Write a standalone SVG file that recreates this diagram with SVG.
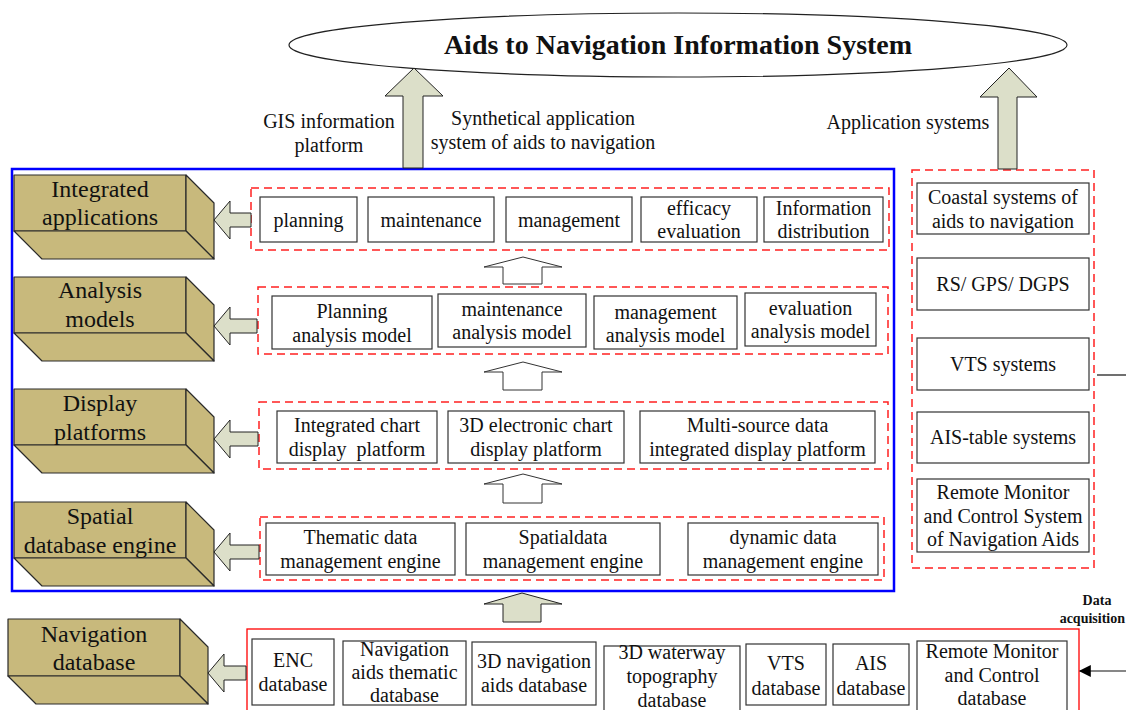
<svg xmlns="http://www.w3.org/2000/svg" width="1126" height="710" viewBox="0 0 1126 710">
<defs>
<style>
text{font-family:"Liberation Serif","Times New Roman",serif;fill:#111;text-anchor:middle}
.t20{font-size:20px}
.t24{font-size:24px}
.title{font-size:28px;font-weight:bold}
.bold{font-size:14px;font-weight:bold}
.box{fill:#fff;stroke:#333;stroke-width:1.2}
.red{fill:none;stroke:#ff2020;stroke-width:1.5;stroke-dasharray:8,5}
.redsolid{fill:none;stroke:#ff0000;stroke-width:1.3}
.gold{fill:#c8b97c;stroke:#2a2a2a;stroke-width:1.2;stroke-linejoin:round}
.garrow{fill:#dcdfc9;stroke:#222;stroke-width:1}
.harrow{fill:#fff;stroke:#333;stroke-width:1}
.line{stroke:#111;stroke-width:1.2;fill:none}
</style>
<marker id="ah" viewBox="0 0 10 10" refX="9" refY="5" markerWidth="16" markerHeight="12" markerUnits="userSpaceOnUse" orient="auto">
<path d="M0,0 L10,5 L0,10 z" fill="#000"/>
</marker>
</defs>
<rect width="1126" height="710" fill="#fff"/>

<g id="title">
<ellipse cx="678" cy="45" rx="389" ry="32" fill="#fff" stroke="#222" stroke-width="1.2"/>
<text class="title" x="678" y="54">Aids to Navigation Information System</text>
</g>

<g id="labels">
<text class="t20" x="329" y="128">GIS information</text>
<text class="t20" x="329" y="152">platform</text>
<text class="t20" x="543" y="125">Synthetical application</text>
<text class="t20" x="543" y="149">system of aids to navigation</text>
<text class="t20" x="908" y="129">Application systems</text>
<text class="bold" x="1097" y="605">Data</text>
<text class="bold" x="1125" y="623" style="text-anchor:end">acquisition</text>
</g>

<g id="gis-platform">
<rect x="12" y="169" width="882" height="422" fill="none" stroke="#0000ff" stroke-width="2.5"/>
</g>

<g id="layer-integrated-applications">
<polygon class="gold" points="14,175 186,175 186,231 14,231"/>
<polygon class="gold" points="186,175 214,203 214,259 186,231"/>
<polygon class="gold" points="14,231 186,231 214,259 42,259"/>
<text class="t24" x="100" y="197">Integrated</text>
<text class="t24" x="100" y="225">applications</text>
</g>
<g id="layer-analysis-models">
<polygon class="gold" points="14,277 186,277 186,333 14,333"/>
<polygon class="gold" points="186,277 214,305 214,361 186,333"/>
<polygon class="gold" points="14,333 186,333 214,361 42,361"/>
<text class="t24" x="100" y="298">Analysis</text>
<text class="t24" x="100" y="327">models</text>
</g>
<g id="layer-display-platforms">
<polygon class="gold" points="14,389 186,389 186,445 14,445"/>
<polygon class="gold" points="186,389 214,417 214,473 186,445"/>
<polygon class="gold" points="14,445 186,445 214,473 42,473"/>
<text class="t24" x="100" y="411">Display</text>
<text class="t24" x="100" y="440">platforms</text>
</g>
<g id="layer-spatial-database-engine">
<polygon class="gold" points="14,502 186,502 186,558 14,558"/>
<polygon class="gold" points="186,502 214,530 214,586 186,558"/>
<polygon class="gold" points="14,558 186,558 214,586 42,586"/>
<text class="t24" x="100" y="524">Spatial</text>
<text class="t24" x="100" y="553">database engine</text>
</g>
<g id="layer-navigation-database">
<polygon class="gold" points="8,619 180,619 180,676 8,676"/>
<polygon class="gold" points="180,619 208,647 208,704 180,676"/>
<polygon class="gold" points="8,676 180,676 208,704 36,704"/>
<text class="t24" x="94" y="642">Navigation</text>
<text class="t24" x="94" y="670">database</text>
</g>

<g id="group-applications">
<rect class="red" x="251" y="188" width="638" height="62"/>
<rect class="box" x="260" y="197" width="97" height="45"/>
<text class="t20" x="308.5" y="227">planning</text>
<rect class="box" x="368" y="197" width="126" height="45"/>
<text class="t20" x="431" y="227">maintenance</text>
<rect class="box" x="506" y="197" width="126" height="45"/>
<text class="t20" x="569" y="227">management</text>
<rect class="box" x="641" y="197" width="116" height="45"/>
<text class="t20" x="699" y="215">efficacy</text>
<text class="t20" x="699" y="238">evaluation</text>
<rect class="box" x="764" y="197" width="119" height="45"/>
<text class="t20" x="823.5" y="215">Information</text>
<text class="t20" x="823.5" y="238">distribution</text>
</g>

<g id="group-models">
<rect class="red" x="258" y="287" width="630" height="67"/>
<rect class="box" x="272" y="296" width="160" height="53"/>
<text class="t20" x="352" y="318">Planning</text>
<text class="t20" x="352" y="342">analysis model</text>
<rect class="box" x="438" y="294" width="148" height="53"/>
<text class="t20" x="512" y="316">maintenance</text>
<text class="t20" x="512" y="339">analysis model</text>
<rect class="box" x="594" y="296" width="143" height="53"/>
<text class="t20" x="665.5" y="319">management</text>
<text class="t20" x="665.5" y="342">analysis model</text>
<rect class="box" x="745" y="293" width="131" height="53"/>
<text class="t20" x="810.5" y="315">evaluation</text>
<text class="t20" x="810.5" y="338">analysis model</text>
</g>

<g id="group-display">
<rect class="red" x="259" y="402" width="629" height="67"/>
<rect class="box" x="277" y="411" width="160" height="52"/>
<text class="t20" x="357" y="432">Integrated chart</text>
<text class="t20" x="357" y="456" xml:space="preserve">display  platform</text>
<rect class="box" x="448" y="411" width="176" height="52"/>
<text class="t20" x="536" y="432">3D electronic chart</text>
<text class="t20" x="536" y="456">display platform</text>
<rect class="box" x="640" y="411" width="235" height="52"/>
<text class="t20" x="757.5" y="432">Multi-source data</text>
<text class="t20" x="757.5" y="456">integrated display platform</text>
</g>

<g id="group-engines">
<rect class="red" x="260" y="517" width="624" height="63"/>
<rect class="box" x="266" y="523" width="189" height="52"/>
<text class="t20" x="360.5" y="544">Thematic data</text>
<text class="t20" x="360.5" y="568">management engine</text>
<rect class="box" x="466" y="523" width="194" height="52"/>
<text class="t20" x="563" y="544">Spatialdata</text>
<text class="t20" x="563" y="568">management engine</text>
<rect class="box" x="688" y="523" width="190" height="52"/>
<text class="t20" x="783" y="544">dynamic data</text>
<text class="t20" x="783" y="568">management engine</text>
</g>

<g id="group-application-systems">
<rect class="red" x="912" y="170" width="182" height="398"/>
<rect class="box" x="917" y="183" width="172" height="51"/>
<text class="t20" x="1003" y="204">Coastal systems of</text>
<text class="t20" x="1003" y="228">aids to navigation</text>
<rect class="box" x="917" y="258" width="172" height="52"/>
<text class="t20" x="1003" y="291">RS/ GPS/ DGPS</text>
<rect class="box" x="917" y="338" width="172" height="52"/>
<text class="t20" x="1003" y="371">VTS systems</text>
<rect class="box" x="917" y="412" width="172" height="51"/>
<text class="t20" x="1003" y="444">AIS-table systems</text>
<rect class="box" x="917" y="479" width="172" height="73"/>
<text class="t20" x="1003" y="499">Remote Monitor</text>
<text class="t20" x="1003" y="523">and Control System</text>
<text class="t20" x="1003" y="546">of Navigation Aids</text>
</g>

<g id="group-databases">
<rect class="redsolid" x="247" y="629" width="832" height="90"/>
<rect class="box" x="252" y="639" width="82" height="66"/>
<text class="t20" x="293" y="667">ENC</text>
<text class="t20" x="293" y="691">database</text>
<rect class="box" x="343" y="641" width="123" height="64"/>
<text class="t20" x="404.5" y="656">Navigation</text>
<text class="t20" x="404.5" y="679">aids thematic</text>
<text class="t20" x="404.5" y="702">database</text>
<rect class="box" x="472" y="642" width="124" height="63"/>
<text class="t20" x="534" y="668">3D navigation</text>
<text class="t20" x="534" y="692">aids database</text>
<rect class="box" x="604" y="646" width="136" height="66"/>
<text class="t20" x="672" y="659">3D waterway</text>
<text class="t20" x="672" y="683">topography</text>
<text class="t20" x="672" y="707">database</text>
<rect class="box" x="746" y="644" width="80" height="61"/>
<text class="t20" x="786" y="670">VTS</text>
<text class="t20" x="786" y="695">database</text>
<rect class="box" x="833" y="644" width="76" height="61"/>
<text class="t20" x="871" y="670">AIS</text>
<text class="t20" x="871" y="695">database</text>
<rect class="box" x="917" y="641" width="150" height="72"/>
<text class="t20" x="992" y="658">Remote Monitor</text>
<text class="t20" x="992" y="682">and Control</text>
<text class="t20" x="992" y="705">database</text>
</g>

<g id="connectors">
<polygon class="garrow" points="403,168 403,96 385,96 414,68 443,96 423,96 423,168"/>
<polygon class="garrow" points="998,169 998,97 980,97 1009,68 1037,97 1017,97 1017,169"/>
<polygon class="garrow" points="503,622 503,604 484,604 522,593 562,604 541,604 541,622"/>
<polygon class="harrow" points="503,284 503,267 484,267 523,257 562,267 542,267 542,284"/>
<polygon class="harrow" points="503,390 503,372 484,372 523,362 562,372 542,372 542,390"/>
<polygon class="harrow" points="503,503 503,484 484,484 523,474 562,484 542,484 542,503"/>
<polygon class="garrow" points="251,213 230,213 230,201 214,220 230,239 230,227 251,227"/>
<polygon class="garrow" points="257,319 230,319 230,307 214,326 230,345 230,333 257,333"/>
<polygon class="garrow" points="258,432 230,432 230,420 214,439 230,458 230,446 258,446"/>
<polygon class="garrow" points="259,545 230,545 230,533 214,552 230,571 230,559 259,559"/>
<polygon class="garrow" points="246,666 224,666 224,654 208,673 224,692 224,680 246,680"/>
<line class="line" x1="1097" y1="375" x2="1126" y2="375"/>
<line class="line" x1="1126" y1="671" x2="1080" y2="671" marker-end="url(#ah)"/>
</g>
</svg>
